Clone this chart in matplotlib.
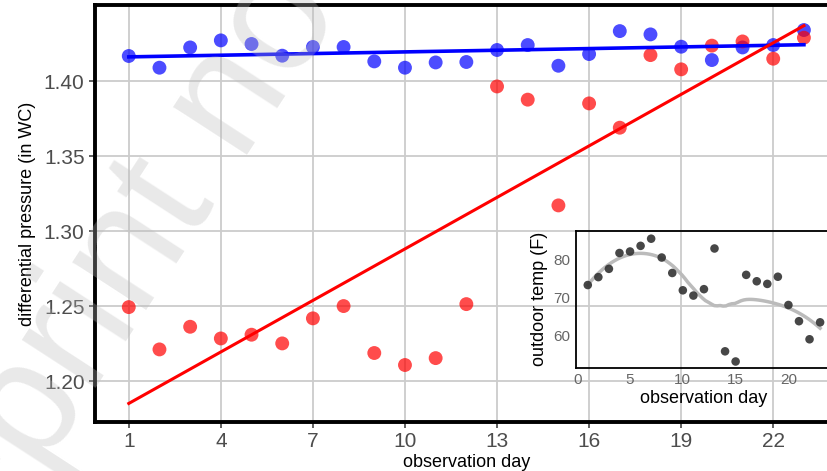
import numpy as np
import matplotlib
matplotlib.use('Agg')
import matplotlib.pyplot as plt

plt.rcParams['font.family'] = ['Liberation Sans', 'DejaVu Sans']

days = np.arange(1, 24)

# differential pressure (in WC)
blue_dp = [1.4167, 1.4089, 1.4224, 1.4271, 1.4247, 1.4169, 1.4227, 1.4227,
           1.4131, 1.4089, 1.4124, 1.4127, 1.4207, 1.4240, 1.4102, 1.4180,
           1.4333, 1.4311, 1.4229, 1.4140, 1.4224, 1.4240, 1.4340]
red_dp = [1.2493, 1.2211, 1.2362, 1.2284, 1.2309, 1.2251, 1.2418, 1.2500,
          1.2187, 1.2107, 1.2153, 1.2513, 1.3964, 1.3876, 1.3171, 1.3851,
          1.3689, 1.4173, 1.4078, 1.4236, 1.4264, 1.4149, 1.4289]

# outdoor temp (F)
temp = [73.3, 75.4, 77.6, 81.8, 82.2, 83.7, 85.6, 80.6, 76.5, 71.9, 70.5,
        72.2, 83.0, 55.7, 53.0, 76.0, 74.3, 73.6, 75.5, 68.0, 63.7, 58.9, 63.4]

main_xticks = [1, 4, 7, 10, 13, 16, 19, 22]
main_yticks = [1.20, 1.25, 1.30, 1.35, 1.40]


def loess(x, y, xs, span=0.75):
    # local quadratic fit with tricube weights (like R's loess)
    x = np.asarray(x, float)
    y = np.asarray(y, float)
    q = int(np.floor(span * len(x)))
    out = []
    for x0 in xs:
        d = np.abs(x - x0)
        h = np.sort(d)[q - 1]
        w = np.clip(1 - (d / h) ** 3, 0, None) ** 3
        X = np.vstack([np.ones_like(x), x - x0, (x - x0) ** 2]).T
        W = np.diag(w)
        beta = np.linalg.solve(X.T @ W @ X, X.T @ W @ y)
        out.append(beta[0])
    return np.array(out)


fig = plt.figure(figsize=(8.27, 4.71), dpi=100)

ax = fig.add_axes([0.1149, 0.104, 0.898, 0.8854])

ax.grid(True, color='#cccccc', linewidth=1.3, zorder=1)
ax.set_axisbelow(True)

bfit = np.polyfit(days, blue_dp, 1)
rfit = np.polyfit(days, red_dp, 1)

ax.scatter(days, blue_dp, s=100, color='#0000ff', alpha=0.7, edgecolors='none', zorder=3)
ax.scatter(days, red_dp, s=100, color='#ff0000', alpha=0.7, edgecolors='none', zorder=3)
ax.plot(days, np.polyval(bfit, days), color='#0000ff', linewidth=2.6, zorder=4)
ax.plot(days, np.polyval(rfit, days), color='#ff0000', linewidth=2.2, zorder=4)

ax.set_xlim(-0.1, 24.1)
ax.set_ylim(1.1727, 1.4507)
ax.set_xticks(main_xticks)
ax.set_yticks(main_yticks)
ax.set_yticklabels(['%.2f' % v for v in main_yticks])
ax.tick_params(labelsize=15, labelcolor='#4d4d4d', color='#444444', length=4, width=1.2)
ax.set_xlabel('observation day', fontsize=13, labelpad=2)
ax.set_ylabel('differential pressure (in WC)', fontsize=13, labelpad=6)
for side in ['left', 'bottom', 'top', 'right']:
    ax.spines[side].set_linewidth(2.8)
    ax.spines[side].set_color('black')

# inset
axi = fig.add_axes([0.6967, 0.2193, 0.309, 0.2903])
axi.patch.set_alpha(0)
xs = np.linspace(1, 23, 80)
axi.plot(xs, loess(days, temp, xs), color='#bbbbbb', linewidth=2.5, zorder=2)
axi.scatter(days, temp, s=38, color='#333333', alpha=0.9, edgecolors='none', zorder=3)
axi.set_xlim(-0.1, 24.1)
axi.set_ylim(51.35, 87.65)
axi.set_xticks([0, 5, 10, 15, 20])
axi.set_yticks([60, 70, 80])
axi.tick_params(labelsize=11, labelcolor='#666666', length=0, pad=4)
axi.set_xlabel('observation day', fontsize=13, labelpad=2)
axi.set_ylabel('outdoor temp (F)', fontsize=13, labelpad=4)
for side in axi.spines:
    axi.spines[side].set_linewidth(1.3)
    axi.spines[side].set_color('black')

# watermark over everything
fig.text(-0.123, -0.47, 'Preprint not peer reviewed', fontsize=120, color='#bbbbbb',
         alpha=0.32, rotation=57, rotation_mode='anchor', ha='left', va='baseline',
         zorder=10)

fig.savefig('out.png', dpi=100)
